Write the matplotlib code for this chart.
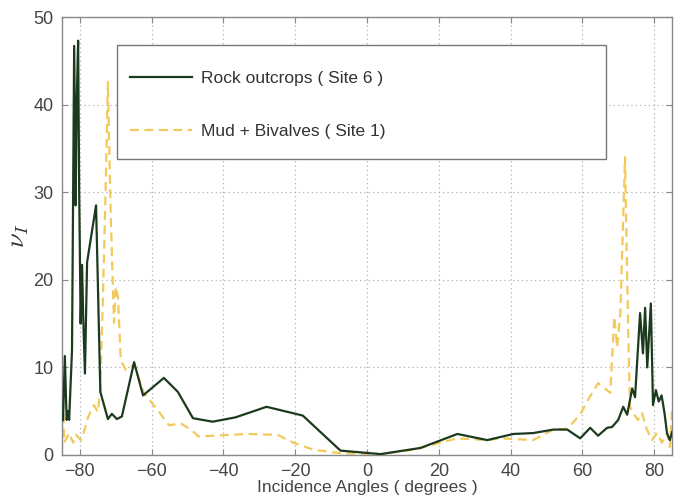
import numpy as np
import matplotlib.pyplot as plt
from matplotlib.patches import Rectangle

plt.rcParams['font.family'] = ['Liberation Sans', 'DejaVu Sans']
plt.rcParams['mathtext.fontset'] = 'cm'

# Site 6 - rock outcrops
rock_ang = [-84.7, -84.2, -83.7, -83.3, -83.0, -82.2, -81.6, -81.2, -80.9, -80.5,
            -80.2, -79.8, -79.4, -79.1, -78.6, -78.0, -75.5, -74.3, -72.2, -71.1,
            -69.7, -68.3, -64.9, -62.4, -56.6, -52.7, -48.5, -43.0, -36.6, -28.0,
            -17.9, -7.4, 3.8, 14.9, 25.2, 33.5, 40.8, 46.3, 51.9, 55.8,
            59.4, 62.2, 64.4, 66.9, 68.3, 70.0, 71.4, 72.5, 73.9, 74.7,
            76.1, 76.9, 77.5, 78.1, 79.1, 79.7, 80.5, 81.3, 82.1, 82.9,
            83.6, 84.4, 85.0]
rock_nu = [4.0, 11.3, 4.0, 5.0, 4.0, 12.0, 46.7, 28.5, 40.0, 47.3,
           30.0, 15.0, 21.7, 16.0, 9.3, 22.0, 28.5, 7.2, 4.1, 4.7,
           4.1, 4.4, 10.6, 6.8, 8.8, 7.2, 4.2, 3.8, 4.3, 5.5,
           4.5, 0.5, 0.1, 0.8, 2.4, 1.7, 2.4, 2.5, 2.9, 2.9,
           1.9, 3.1, 2.2, 3.1, 3.2, 4.0, 5.5, 4.6, 7.6, 6.6,
           16.2, 11.6, 16.8, 10.0, 17.3, 5.7, 7.4, 6.1, 6.8, 4.8,
           2.5, 1.7, 2.6]

# Site 1 - mud + bivalves
mud_ang = [-84.7, -84.4, -83.0, -81.9, -81.1, -79.7, -78.9, -77.8, -76.9, -76.1,
           -75.0, -74.4, -73.6, -72.8, -72.2, -71.4, -70.5, -70.0, -69.4, -68.6,
           -67.2, -64.9, -62.2, -58.3, -55.2, -51.9, -49.1, -46.9, -42.7, -33.2,
           -24.9, -20.5, -14.9, -7.4, 3.8, 12.9, 20.4, 25.2, 33.5, 37.1,
           46.3, 51.9, 55.8, 59.4, 61.6, 64.4, 67.8, 68.9, 69.7, 70.6,
           71.9, 72.8, 73.3, 74.1, 75.5, 76.6, 78.0, 79.4, 80.8, 82.2,
           83.6, 84.4, 85.0]
mud_nu = [6.3, 1.4, 2.5, 1.4, 2.3, 1.7, 2.6, 4.2, 5.1, 5.7,
          4.9, 7.1, 17.7, 31.0, 42.6, 27.2, 15.1, 19.2, 18.0, 10.8,
          9.7, 10.3, 7.1, 5.1, 3.4, 3.6, 2.9, 2.1, 2.2, 2.4,
          2.3, 1.4, 0.6, 0.2, 0.1, 0.6, 1.4, 1.9, 1.7, 1.9,
          1.7, 2.9, 3.0, 4.6, 6.3, 8.2, 7.1, 15.8, 12.3, 16.2,
          34.0, 13.9, 5.5, 4.8, 4.0, 4.8, 2.9, 1.7, 2.5, 1.4,
          2.5, 0.9, 5.1]

fig = plt.figure(figsize=(6.87, 4.96), dpi=100)
ax = fig.add_axes([0.0902, 0.0827, 0.888, 0.883])

ax.plot(rock_ang, rock_nu, '-', color='#1c3a1e', lw=1.6, label='Rock outcrops ( Site 6 )', zorder=3)
ax.plot(mud_ang, mud_nu, '--', color='#f2c95a', lw=1.6, dashes=(4, 2.5),
        label='Mud + Bivalves ( Site 1)', zorder=2)

ax.set_xlim(-85, 85)
ax.set_ylim(0, 50)
ax.set_xticks(np.arange(-80, 81, 20))
ax.set_yticks(np.arange(0, 51, 10))
ax.grid(True, color='#b0b0b0', linestyle=(0, (1, 2.5)), lw=0.9)
ax.tick_params(direction='in', top=True, right=True, length=4, color='#888888',
               labelsize=13, labelcolor='#444444')
ax.tick_params(axis='x', pad=6)
ax.tick_params(axis='y', pad=6)
for s in ax.spines.values():
    s.set_color('#888888')
    s.set_linewidth(1.0)

ax.set_xlabel('Incidence Angles ( degrees )', fontsize=12.5, color='#444444', labelpad=0)
ax.set_ylabel(r'$\nu_I$', fontsize=19, color='#333333')
ax.yaxis.set_label_coords(-0.05, 0.5)

# legend box drawn separately, entries placed inside it
box = Rectangle((0.09, 0.676), 0.802, 0.26, transform=ax.transAxes, facecolor='white',
                edgecolor='#777777', lw=1.0, zorder=4)
ax.add_patch(box)
leg = ax.legend(loc='upper left', bbox_to_anchor=(0.1115, 0.876), borderaxespad=0, borderpad=0,
                fontsize=12.5, handlelength=3.6, handletextpad=0.5, labelspacing=2.17,
                frameon=False)
leg.set_zorder(5)
for t in leg.get_texts():
    t.set_color('#333333')

fig.savefig('out.png', dpi=100)
